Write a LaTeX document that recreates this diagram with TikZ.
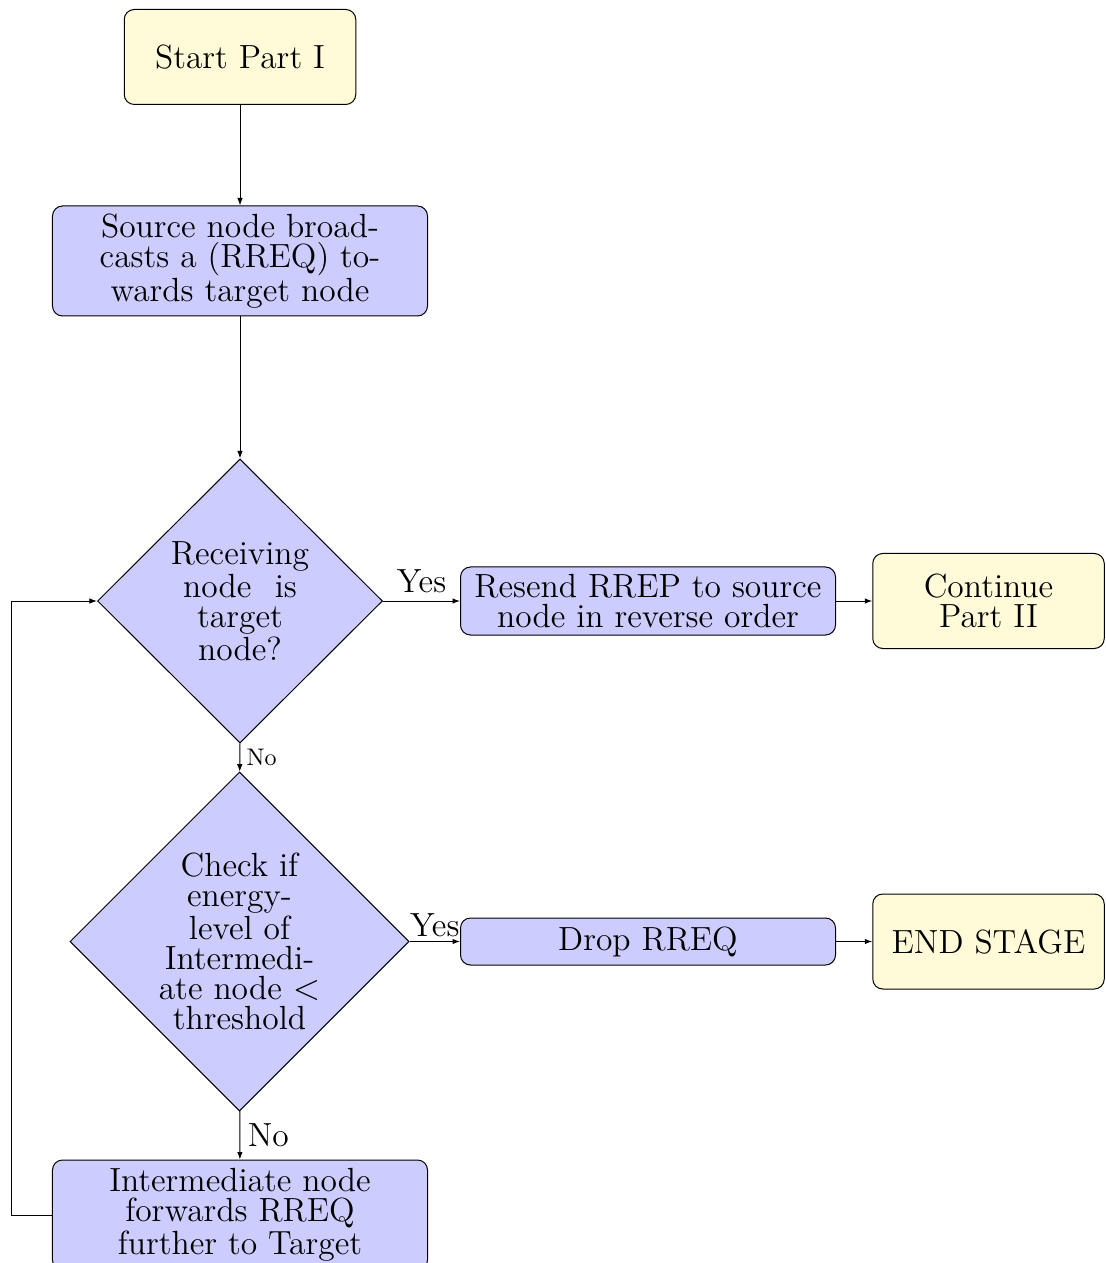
\documentclass[tikz,border=0pt]{standalone}
\usetikzlibrary{shapes.geometric,arrows.meta}
\definecolor{startfill}{RGB}{255,250,216}
\definecolor{procfill}{RGB}{204,204,255}
\begin{document}
\begin{tikzpicture}[x=0.4pt,y=-0.4pt,
  every node/.style={font=\fontsize{13.4}{12}\selectfont},
  terminal/.style={draw,rounded corners=4pt,fill=startfill,align=center,
    minimum width=92.6pt,minimum height=38pt,inner sep=0pt},
  process/.style={draw,rounded corners=4pt,fill=procfill,align=center,
    minimum width=150pt,inner sep=0pt},
  decision/.style={draw,diamond,fill=procfill,align=center,inner sep=0pt},
  arr/.style={-{Latex[length=3pt,width=2.2pt]}},
  lbl/.style={font=\fontsize{13.4}{12}\selectfont,inner sep=3pt},
  smalllbl/.style={font=\fontsize{9.6}{11}\selectfont,inner sep=2.5pt}]
\useasboundingbox (0,0) rectangle (1105,1263);

% nodes of the flow
\node[terminal] (start) at (240,57) {Start Part I};
\node[process,minimum height=44pt] (src) at (240,261)
  {Source node broad-\\casts a (RREQ) to-\\wards target node};
\node[decision,minimum width=114pt,minimum height=113.6pt] (d1) at (240,601)
  {Receiving\\node\hspace{0.7em}is\\target\\node?};
\node[process,minimum height=27.2pt] (resend) at (648,601)
  {Resend RREP to source\\node in reverse order};
\node[terminal] (cont) at (988.5,601) {Continue\\Part II};
\node[decision,minimum width=135.6pt,minimum height=135.6pt] (d2) at (239.5,941.5)
  {Check if\\energy-\\level of\\Intermedi-\\ate node $<$\\threshold};
\node[process,minimum height=18.8pt] (drop) at (648,941.5) {Drop RREQ};
\node[terminal] (endst) at (988.5,941.5) {END STAGE};
\node[process,minimum height=44pt] (inter) at (240,1215)
  {Intermediate node\\forwards RREQ\\further to Target};

% connectors
\draw[arr] (start) -- (src);
\draw[arr] (src) -- (d1);
\draw[arr] (d1) -- node[lbl,above] {Yes} (resend);
\draw[arr] (resend) -- (cont);
\draw[arr] (d1) -- node[smalllbl,right] {No} (d2);
\draw[arr] (d2) -- node[lbl,above,inner sep=1.5pt] {Yes} (drop);
\draw[arr] (drop) -- (endst);
\draw[arr] (d2) -- node[lbl,right] {No} (inter);
\draw[arr] (inter.west) -- ++(-40,0) |- (d1.west);
\end{tikzpicture}
\end{document}
